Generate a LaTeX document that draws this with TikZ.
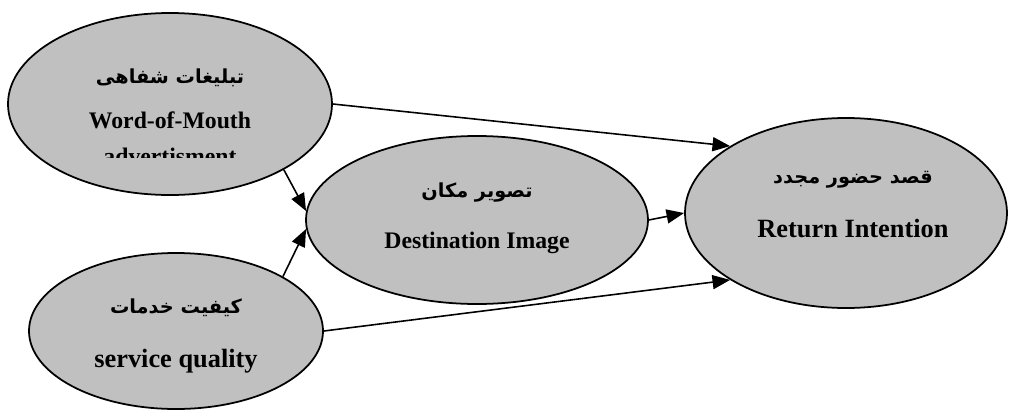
\documentclass[tikz,border=0pt]{standalone}
\usepackage{fontspec}
\setmainfont{Liberation Serif}
\newfontfamily\farsi[Script=Arabic]{DejaVu Sans}
\TeXXeTstate=1
\usepackage{tikz}
\usetikzlibrary{shapes.geometric,arrows.meta}

\tikzset{
 bubble/.style={ellipse, draw=black, line width=1pt, fill={rgb,255:red,192;green,192;blue,192}, inner sep=0pt},
 fa/.style={font=\farsi\bfseries\fontsize{11}{13}\selectfont, inner sep=0pt},
 en/.style={font=\bfseries\fontsize{13.5}{16}\selectfont, inner sep=0pt, anchor=base},
 enbig/.style={font=\bfseries\fontsize{15}{18}\selectfont, inner sep=0pt, anchor=base},
 link/.style={line width=0.9pt, -{Triangle[length=10pt,width=8pt]}}
}

\begin{document}
\begin{tikzpicture}
\useasboundingbox (0,0) rectangle (20.22,-8.22);

\foreach \x/\y/\w/\h/\name in {3.4/-2.08/6.48/3.64/wom, 3.52/-6.62/5.88/3.12/sq, 9.54/-4.4/6.84/3.36/di, 16.92/-4.26/6.44/3.8/ri}{
 \node[bubble, minimum width=\w cm, minimum height=\h cm] (\name) at (\x,\y) {};
 }

\node[fa] (womfa) at ([yshift=0.52cm]wom.center) {\beginR تبلیغات شفاهی\endR};
\node[en] (women) at ([yshift=-0.48cm]wom.center) {Word-of-Mouth};
\begin{scope}
 \clip (0,0) rectangle (20.22,-3.14);
 \node[en] (women2) at ([yshift=-1.2cm]wom.center) {advertisment};
\end{scope}

\node[fa] (sqfa) at ([yshift=0.46cm]sq.center) {\beginR کیفیت خدمات\endR};
\node[enbig] (sqen) at ([yshift=-0.72cm]sq.center) {service quality};

\node[fa] (difa) at ([yshift=0.54cm]di.center) {\beginR تصویر مکان\endR};
\node[en] (dien) at ([yshift=-0.56cm]di.center) {Destination Image};

\node[fa] (rifa) at ([xshift=0.14cm, yshift=0.66cm]ri.center) {\beginR قصد حضور مجدد\endR};
\node[enbig] (rien) at ([xshift=0.14cm, yshift=-0.48cm]ri.center) {Return Intention};

% paths of the model
\draw[link] (wom.east) -- (ri.150);
\draw[link] (wom.-30) -- (di.177);
\draw[link] (sq.27) -- (di.183);
\draw[link] (sq.east) -- (ri.210);
\draw[link] (di.east) -- (ri.west);

\end{tikzpicture}
\end{document}
